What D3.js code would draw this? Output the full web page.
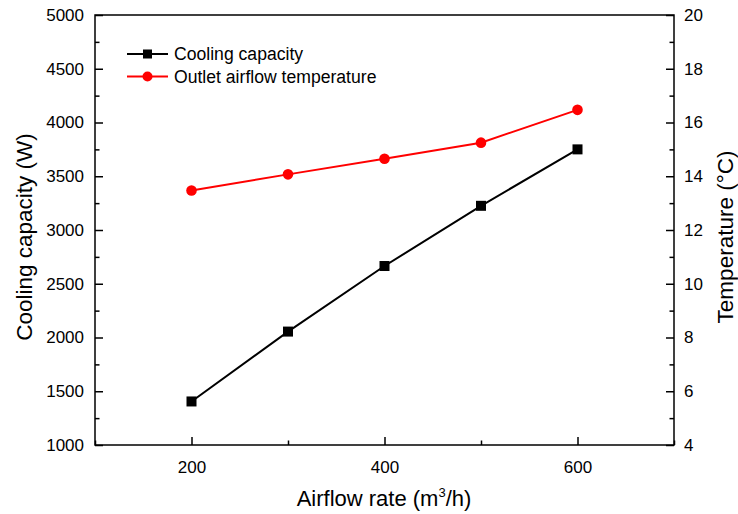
<!DOCTYPE html>
<html>
<head>
<meta charset="utf-8">
<script src="https://cdn.jsdelivr.net/npm/d3@7"></script>
<style>
  html, body { margin: 0; padding: 0; background: #fff; }
  svg { display: block; font-family: "Liberation Sans", Arial, sans-serif; }
</style>
</head>
<body>
<svg id="chart" width="738" height="514"></svg>
<script>
// Airflow rate (m3/h)
const airflow = [200, 300, 400, 500, 600];
// Cooling capacity (W)
const coolingCapacity = [1405, 2055, 2665, 3225, 3750];
// Outlet airflow temperature (°C)
const outletTemp = [13.47, 14.07, 14.65, 15.25, 16.47];

const xTicks = [200, 400, 600];
const xMinor = [100, 300, 500, 700];
const yLeftTicks = [1000, 1500, 2000, 2500, 3000, 3500, 4000, 4500, 5000];
const yRightTicks = [4, 6, 8, 10, 12, 14, 16, 18, 20];

const svg = d3.select("#chart");
const m = { left: 95, right: 674, top: 15, bottom: 445 };

const x = d3.scaleLinear().domain([100, 700]).range([m.left, m.right]);
const yL = d3.scaleLinear().domain([1000, 5000]).range([m.bottom, m.top]);
const yR = d3.scaleLinear().domain([4, 20]).range([m.bottom, m.top]);

const major = 8, minor = 4.5;

// Bottom axis with inward ticks
const gx = svg.append("g").attr("transform", `translate(0,${m.bottom})`);
gx.call(d3.axisBottom(x).tickValues(xMinor).tickSize(-minor).tickFormat(""));
gx.call(g => g.selectAll(".domain").remove());
const gx2 = svg.append("g").attr("transform", `translate(0,${m.bottom})`)
  .call(d3.axisBottom(x).tickValues(xTicks).tickSize(-major).tickPadding(major + 8).tickFormat(d3.format("d")));
gx2.select(".domain").remove();

// Left axis
const yLMinor = d3.range(1250, 5000, 500);
svg.append("g").attr("transform", `translate(${m.left},0)`)
  .call(d3.axisLeft(yL).tickValues(yLMinor).tickSize(-minor).tickFormat(""))
  .call(g => g.select(".domain").remove());
svg.append("g").attr("transform", `translate(${m.left},0)`)
  .call(d3.axisLeft(yL).tickValues(yLeftTicks).tickSize(-major).tickPadding(11).tickFormat(d3.format("d")))
  .call(g => g.select(".domain").remove());

// Right axis
const yRMinor = d3.range(5, 20, 2);
svg.append("g").attr("transform", `translate(${m.right},0)`)
  .call(d3.axisRight(yR).tickValues(yRMinor).tickSize(-minor).tickFormat(""))
  .call(g => g.select(".domain").remove());
svg.append("g").attr("transform", `translate(${m.right},0)`)
  .call(d3.axisRight(yR).tickValues(yRightTicks).tickSize(-major).tickPadding(10).tickFormat(d3.format("d")))
  .call(g => g.select(".domain").remove());

svg.selectAll(".tick line").attr("stroke", "#000").attr("stroke-width", 1.5);
svg.selectAll(".tick text").attr("fill", "#000").attr("font-size", 17)
  .attr("font-family", "Liberation Sans, Arial, sans-serif");

// Frame
svg.append("rect")
  .attr("x", m.left).attr("y", m.top)
  .attr("width", m.right - m.left).attr("height", m.bottom - m.top)
  .attr("fill", "none").attr("stroke", "#000").attr("stroke-width", 1.5);

// Series
const coolData = airflow.map((a, i) => [a, coolingCapacity[i]]);
const tempData = airflow.map((a, i) => [a, outletTemp[i]]);

svg.append("path").datum(coolData)
  .attr("fill", "none").attr("stroke", "#000").attr("stroke-width", 2)
  .attr("d", d3.line().x(d => x(d[0])).y(d => yL(d[1])));
svg.selectAll(".sq").data(coolData).join("rect")
  .attr("x", d => x(d[0]) - 5).attr("y", d => yL(d[1]) - 5)
  .attr("width", 10).attr("height", 10).attr("fill", "#000");

svg.append("path").datum(tempData)
  .attr("fill", "none").attr("stroke", "#ff0000").attr("stroke-width", 2)
  .attr("d", d3.line().x(d => x(d[0])).y(d => yR(d[1])));
svg.selectAll(".dot").data(tempData).join("circle")
  .attr("cx", d => x(d[0])).attr("cy", d => yR(d[1]))
  .attr("r", 5.3).attr("fill", "#ff0000");

// Legend
const legend = [
  { label: "Cooling capacity", color: "#000", shape: "square", y: 54 },
  { label: "Outlet airflow temperature", color: "#ff0000", shape: "circle", y: 76.5 }
];
legend.forEach(l => {
  svg.append("line").attr("x1", 127).attr("x2", 168).attr("y1", l.y).attr("y2", l.y)
    .attr("stroke", l.color).attr("stroke-width", 2);
  if (l.shape === "square") {
    svg.append("rect").attr("x", 147.5 - 4.5).attr("y", l.y - 4.5).attr("width", 9).attr("height", 9).attr("fill", l.color);
  } else {
    svg.append("circle").attr("cx", 147.5).attr("cy", l.y).attr("r", 5).attr("fill", l.color);
  }
  svg.append("text").attr("x", 174).attr("y", l.y).attr("dy", "0.35em")
    .attr("font-size", 17.6).attr("fill", "#000").text(l.label);
});

// Axis titles
const xt = svg.append("text").attr("x", 384).attr("y", 506)
  .attr("text-anchor", "middle").attr("font-size", 22).attr("fill", "#000");
xt.append("tspan").text("Airflow rate (m");
xt.append("tspan").attr("font-size", 13).attr("dy", -9).text("3");
xt.append("tspan").attr("dy", 9).text("/h)");

svg.append("text").attr("transform", "translate(32,237) rotate(-90)")
  .attr("text-anchor", "middle").attr("font-size", 22.5).attr("fill", "#000")
  .text("Cooling capacity (W)");
svg.append("text").attr("transform", "translate(733,237) rotate(-90)")
  .attr("text-anchor", "middle").attr("font-size", 22.5).attr("fill", "#000")
  .text("Temperature (°C)");
</script>
</body>
</html>
